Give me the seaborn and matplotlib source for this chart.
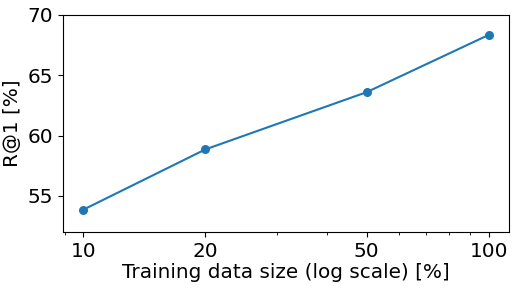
import matplotlib
matplotlib.use("Agg")
import matplotlib.pyplot as plt
import seaborn as sns
import pandas as pd
from matplotlib.ticker import FixedLocator, FixedFormatter, NullFormatter

sizes = [10, 20, 50, 100]
r_at_1 = [53.85, 58.85, 63.6, 68.35]
xtick_labels = ["10", "20", "50", "100"]
yticks = [55, 60, 65, 70]

plt.rcParams["font.family"] = ["DejaVu Sans"]
FS = 14.4
plt.rcParams["font.size"] = FS

df = pd.DataFrame({"size": sizes, "r1": r_at_1})

fig = plt.figure(figsize=(5.19, 2.88), dpi=100)
ax = fig.add_axes([63/519, 1-232/288, (509-63)/519, (232-15)/288])
sns.lineplot(data=df, x="size", y="r1", marker="o", markersize=6.5,
             markeredgewidth=0, color="#1f77b4", linewidth=1.5, ax=ax)
ax.set_xscale("log")
ax.xaxis.set_major_locator(FixedLocator(sizes))
ax.xaxis.set_major_formatter(FixedFormatter(xtick_labels))
ax.xaxis.set_minor_formatter(NullFormatter())
ax.set_yticks(yticks)
ax.set_ylim(52, 70)
ax.set_xlabel("Training data size (log scale) [%]", fontsize=FS, labelpad=2)
ax.set_ylabel("R@1 [%]", fontsize=FS)
ax.tick_params(labelsize=FS)
fig.savefig("out.png", dpi=100)
